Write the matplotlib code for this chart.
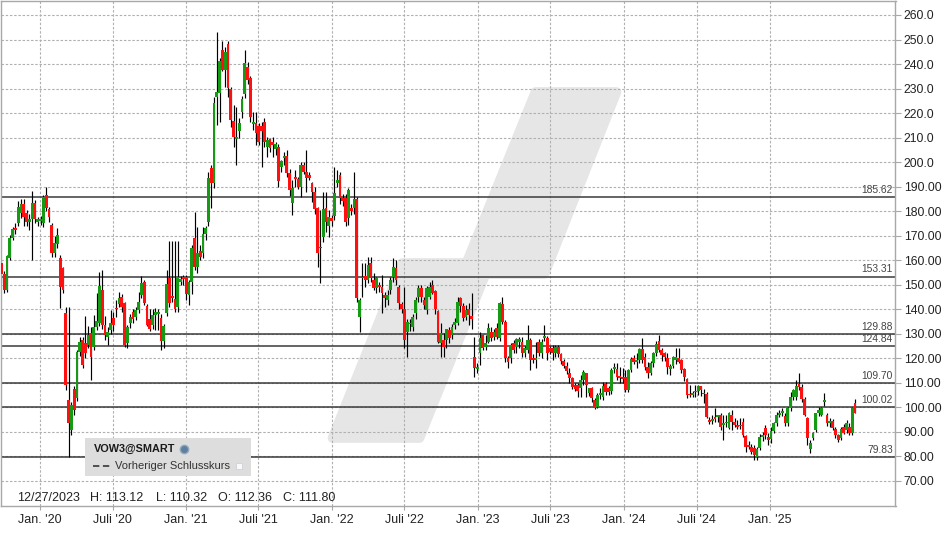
import matplotlib
matplotlib.use("Agg")
import matplotlib.pyplot as plt
import matplotlib.dates as mdates
from matplotlib.patches import Polygon, Rectangle
from matplotlib.transforms import blended_transform_factory
import pandas as pd
import numpy as np
from datetime import datetime

plt.rcParams['font.family'] = ['Liberation Sans', 'DejaVu Sans']

# ---------------- data (weekly candles) ----------------
start_date = "2019-09-27"
opens = [158.7,154.3,147.8,160.7,168.9,173.0,175.3,179.1,182.9,179.1,175.7,176.6,183.4,175.7,175.8,175.0,186.6,180.7,174.3,162.8,
         166.4,160.7,156.6,138.3,102.9,90.7,107.3,103.6,122.7,127.4,126.0,125.4,130.1,124.7,132.8,134.2,147.8,133.5,128.8,131.5,
         136.2,140.6,142.1,144.8,142.3,126.0,134.2,139.0,136.9,139.6,145.8,151.2,141.3,135.8,
         133.5,137.6,138.0,136.5,127.0,138.6,152.8,145.3,144.0,140.7,151.2,153.2,153.2,145.7,151.0,168.9,157.1,163.9,162.8,170.5,
         175.7,197.5,191.6,226.7,228.3,245.7,237.6,248.2,229.8,216.8,209.4,212.8,220.5,227.8,238.9,234.2,215.5,216.0,214.7,214.7,
         216.3,206.0,209.4,208.0,205.3,206.3,198.1,201.5,202.5,195.7,
         183.2,194.0,193.1,190.0,198.8,196.1,194.7,191.3,187.9,181.1,165.5,169.3,181.1,173.9,177.0,178.1,191.3,194.7,185.5,185.5,
         177.0,181.1,181.1,184.9,136.9,153.2,153.5,151.9,158.7,151.9,148.5,149.8,149.2,145.8,143.7,147.8,153.2,156.6,149.2,142.1,
         139.9,130.8,133.9,132.8,138.3,145.1,148.5,143.7,139.6,145.1,
         149.8,147.4,139.2,126.0,127.4,127.4,131.5,129.4,133.5,134.2,144.4,141.3,136.6,139.9,137.2,120.3,115.5,121.9,129.4,124.7,
         126.7,130.8,128.8,132.1,128.1,142.1,134.9,119.9,119.9,126.0,124.7,126.5,126.7,122.2,123.3,127.4,119.9,119.3,126.7,122.0,
         128.1,128.4,124.0,124.0,122.2,124.7,121.7,118.8,116.8,113.8,111.7,109.0,109.0,
         107.7,111.1,113.8,105.6,107.7,102.9,100.2,105.0,104.3,109.5,107.7,106.7,115.6,115.4,112.7,112.2,112.2,107.0,115.2,120.2,
         118.6,119.2,123.6,120.3,116.5,114.1,117.9,121.9,127.1,123.3,121.9,119.9,115.4,116.8,119.2,119.9,119.2,115.4,111.4,105.4,
         105.0,106.0,106.7,108.6,105.8,105.4,94.8,94.5,96.1,96.0,96.8,
         92.7,93.4,91.4,96.8,94.1,92.7,92.2,94.1,88.2,84.6,83.9,83.2,79.8,83.2,87.7,91.4,88.0,86.9,90.4,93.4,
         96.8,97.8,96.4,93.4,99.5,104.3,104.0,109.4,108.4,103.2,95.4,82.8,87.3,90.7,97.5,96.8,102.2,96.8,93.6,94.5,
         90.9,88.6,87.3,92.0,90.7,92.0,89.6,101.6]
highs = [159.4,155.5,162.1,170.2,173.6,175.0,184.2,185.0,185.0,180.5,179.0,188.0,184.5,177.5,178.0,186.6,190.0,181.5,175.0,170.0,
         173.0,162.0,157.0,141.0,141.0,102.0,108.5,123.5,128.5,128.5,137.0,133.0,132.8,137.6,146.4,155.0,156.0,137.0,132.8,139.6,
         139.0,143.7,147.1,146.0,143.0,133.5,138.0,140.0,141.0,147.0,153.7,152.0,142.0,140.0,
         140.0,140.3,140.0,138.0,134.0,156.0,167.9,167.9,167.9,167.9,153.5,154.0,154.0,152.0,166.0,179.7,173.6,166.0,173.6,174.0,
         196.1,199.0,226.7,253.2,242.3,249.5,247.1,249.5,230.8,223.3,222.6,218.0,227.0,245.7,241.0,235.0,220.5,220.5,216.0,216.5,
         218.0,210.4,210.0,210.4,208.0,207.5,201.0,204.0,205.0,197.0,
         192.7,196.8,194.0,200.2,200.2,204.9,196.0,192.0,190.0,181.8,180.5,187.9,187.9,180.5,178.5,198.1,196.8,196.1,187.0,187.0,
         189.3,183.0,196.1,185.9,144.4,158.7,158.7,161.4,161.4,154.6,153.0,151.0,153.9,147.0,147.8,153.0,160.7,160.0,150.0,143.0,
         149.2,136.0,136.0,138.0,145.0,150.0,150.0,145.0,149.5,151.0,
         152.0,148.0,139.6,134.2,130.1,131.8,132.8,134.0,136.2,145.0,145.0,142.5,141.7,142.4,146.4,128.8,117.9,130.8,129.4,129.4,
         134.2,132.8,132.0,134.2,143.0,145.1,135.5,121.0,126.0,127.4,128.4,128.5,128.8,125.0,133.5,128.1,121.8,126.7,128.0,128.0,
         133.5,129.0,125.0,125.2,125.5,125.5,122.0,119.5,118.5,115.8,112.5,110.0,110.0,
         113.1,115.2,114.1,108.0,108.4,103.6,105.6,107.7,110.4,110.4,108.5,115.8,117.9,117.9,116.5,115.8,115.2,115.5,120.6,121.3,
         122.0,124.0,128.1,121.9,118.5,119.0,122.6,127.0,129.4,124.0,122.5,122.0,117.5,121.0,124.0,124.0,119.5,116.0,112.0,109.0,
         106.5,109.0,109.0,108.6,107.5,106.0,96.1,96.8,99.5,97.0,97.5,
         96.8,96.8,98.0,98.8,95.5,94.7,95.4,95.4,88.6,86.0,85.0,84.5,83.9,89.0,90.0,92.7,89.5,92.0,94.0,98.2,
         98.8,99.5,97.5,100.0,106.3,107.3,111.0,113.8,109.5,104.0,96.0,86.5,90.0,97.5,100.2,100.2,105.6,97.5,95.5,95.0,
         92.0,89.0,92.0,93.0,94.8,93.5,100.2,103.2]
lows = [150.5,146.4,147.1,160.0,168.2,170.5,174.0,177.0,174.0,174.0,172.3,160.0,175.0,174.0,174.3,173.6,180.0,175.5,161.4,161.4,
        165.0,140.3,146.4,107.0,79.8,88.5,97.0,102.5,121.0,116.0,120.0,124.0,111.0,123.3,131.5,133.0,132.0,127.5,125.4,130.0,
        131.0,136.9,141.0,139.0,124.7,124.0,132.5,134.5,135.5,138.5,144.5,141.5,133.0,131.0,
        132.0,131.5,131.5,123.3,124.0,137.0,141.0,143.0,139.0,139.0,150.0,150.0,143.7,141.7,146.0,156.0,154.6,160.0,160.7,168.0,
        174.0,181.1,189.3,215.0,216.5,237.0,230.8,226.7,214.4,206.3,198.8,210.0,218.0,226.0,232.0,216.5,213.0,207.0,207.0,198.0,
        206.0,202.0,204.0,202.0,203.0,190.0,196.0,199.0,194.0,186.0,
        178.4,190.0,189.0,185.9,195.0,187.9,192.5,183.8,179.0,157.3,150.8,167.5,171.6,169.6,174.0,176.4,190.0,183.0,182.0,174.0,
        174.3,178.5,179.0,143.0,130.8,145.1,149.2,150.5,151.0,148.0,146.5,147.0,138.3,141.0,141.7,146.0,151.0,150.0,140.0,138.5,
        124.0,120.6,131.0,131.0,136.0,143.0,143.0,140.0,138.0,144.0,
        146.0,138.0,126.0,120.6,120.6,124.0,126.0,128.0,132.0,133.5,139.0,135.0,135.5,133.5,132.0,112.4,113.8,117.2,123.3,123.3,
        126.0,127.0,127.5,128.0,127.0,134.0,118.6,115.8,118.0,122.0,122.0,124.0,120.6,120.5,122.0,115.2,118.0,115.8,121.0,120.0,
        127.0,119.2,121.5,119.2,120.5,120.5,117.5,116.0,113.5,109.7,107.5,106.5,104.0,
        104.3,109.0,104.3,104.5,102.2,99.1,99.5,103.2,103.0,105.0,105.0,105.5,114.0,111.0,110.0,109.7,106.0,106.0,114.5,117.5,
        116.0,118.0,118.0,115.2,111.8,113.0,116.5,121.0,122.5,119.0,119.0,113.5,113.0,116.0,117.5,118.0,114.0,110.5,103.8,104.0,
        104.0,104.0,105.0,104.6,101.6,95.5,93.0,93.0,94.0,94.0,90.5,
        86.6,92.0,91.0,90.7,92.0,91.0,91.0,88.0,81.8,83.0,81.0,78.4,78.4,82.5,86.0,87.0,84.5,85.5,89.5,92.5,
        95.8,96.5,92.5,92.5,98.5,103.0,103.0,107.0,102.2,96.5,84.6,81.2,86.5,90.0,96.5,96.5,100.5,92.5,92.0,90.5,
        87.5,85.9,86.5,89.0,89.5,88.5,88.7,97.5]
closes = [154.3,147.8,161.7,168.9,172.6,172.3,181.8,182.9,177.7,175.7,176.8,183.4,176.6,176.6,176.6,185.6,181.1,177.4,162.8,166.8,
          170.2,149.2,147.8,109.0,93.4,100.9,98.8,122.7,126.7,117.2,121.9,129.4,120.6,132.8,135.1,149.4,133.5,129.5,130.8,134.5,
          133.5,140.0,144.4,141.0,125.4,132.8,136.9,135.8,139.6,143.0,150.5,142.4,133.5,131.8,
          137.6,139.0,138.7,127.0,133.1,150.1,142.4,144.6,139.9,153.2,152.2,152.2,146.1,151.2,164.8,157.1,162.8,161.4,170.5,173.0,
          193.4,191.3,224.0,228.4,241.2,237.6,245.0,230.1,217.2,210.4,210.1,215.8,225.7,240.3,233.5,218.5,216.5,211.7,208.3,212.8,
          208.3,209.0,205.9,206.8,207.4,192.4,200.4,202.3,195.4,188.6,
          189.3,193.1,190.0,198.8,196.1,193.4,193.4,187.9,180.7,162.8,164.8,180.7,175.7,177.7,176.1,187.5,192.7,185.2,184.3,175.7,
          188.6,180.2,184.9,144.4,143.7,152.6,151.9,158.0,152.6,148.5,152.6,148.9,146.4,144.4,145.8,151.9,157.1,151.9,142.4,139.9,
          127.4,134.6,134.5,136.9,143.7,148.5,145.1,141.7,148.5,148.9,
          146.5,139.9,126.7,130.1,124.7,131.8,128.1,132.8,134.9,143.0,141.3,136.2,139.6,137.6,135.8,115.8,116.5,128.1,124.0,126.0,
          132.1,128.1,130.8,128.8,142.6,134.9,119.9,118.6,125.4,123.3,127.7,127.9,122.0,124.0,127.4,119.3,119.3,119.7,122.0,126.7,
          129.0,122.2,122.7,122.2,124.7,121.7,118.8,116.8,114.8,111.7,108.4,107.3,106.5,
          111.1,114.5,109.0,107.7,103.6,99.5,105.0,105.6,108.6,106.3,106.3,115.2,115.9,112.4,111.8,111.8,107.0,115.2,119.5,118.6,
          119.2,123.6,119.2,116.5,114.1,117.9,122.2,125.8,123.3,121.3,120.6,116.5,116.8,120.6,120.3,118.6,115.2,112.4,104.9,105.0,
          105.6,106.8,108.6,107.0,105.4,96.1,94.1,95.2,95.0,96.7,92.0,
          93.4,94.1,97.7,94.1,92.7,92.0,92.6,88.6,83.9,83.9,81.8,80.5,82.9,87.7,88.6,88.6,86.6,90.4,93.4,96.8,
          97.8,98.3,93.4,99.5,104.3,106.9,108.6,108.4,103.2,96.8,87.3,85.5,89.6,97.5,98.8,99.5,102.8,93.4,94.5,91.4,
          88.6,86.6,90.9,89.6,93.7,89.6,99.5,97.8]

ref_levels = [185.62, 153.31, 129.88, 124.84, 109.70, 100.02, 79.83]
y_ticks = list(range(70, 261, 10))
x_tick_dates = ["2020-01-01", "2020-07-01", "2021-01-01", "2021-07-01", "2022-01-01", "2022-07-01",
                "2023-01-01", "2023-07-01", "2024-01-01", "2024-07-01", "2025-01-01"]
x_tick_labels = ["Jan. '20", "Juli '20", "Jan. '21", "Juli '21", "Jan. '22", "Juli '22",
                 "Jan. '23", "Juli '23", "Jan. '24", "Juli '24", "Jan. '25"]
info_items = ["12/27/2023", "H: 113.12", "L: 110.32", "O: 112.36", "C: 111.80"]
symbol = "VOW3@SMART"
legend_label = "Vorheriger Schlusskurs"

# ---------------- figure ----------------
W, H = 948, 534
fig = plt.figure(figsize=(W / 100, H / 100), dpi=100)
AX_W, AX_H = 895, 505
ax = fig.add_axes([0.5 / W, (H - 506) / H, AX_W / W, AX_H / H])

def px(x, y):
    """pixel position inside the axes box (top-left origin) -> axes fraction"""
    return x / AX_W, 1 - (y - 1) / AX_H

dates = mdates.date2num(pd.date_range(start_date, periods=len(opens), freq="7D").to_pydatetime())
o = np.array(opens); h = np.array(highs); l = np.array(lows); c = np.array(closes)
up = c >= o
body = c - o
body = np.where(np.abs(body) < 0.6, np.where(up, 0.6, -0.6), body)
colors = np.where(up, "#169a16", "#ff1010")

jan20 = mdates.date2num(datetime(2020, 1, 1))
ax.set_xlim(jan20 - 98.3, jan20 + 2140.5)
ax.set_ylim(59.68, 265.71)

# watermark
wm_px = [(535, 92), (616, 92), (544, 274), (485, 274), (419, 438), (332, 438), (402, 263), (466, 263)]
wm = Polygon([px(*p) for p in wm_px], closed=True, transform=ax.transAxes,
             facecolor="#e6e6e6", edgecolor="#e6e6e6", lw=7, joinstyle="round", zorder=0.1)
ax.add_patch(wm)

# grid
ax.set_axisbelow(True)
ax.grid(True, color="#b0b0b0", linestyle=(0, (2.2, 1.6)), lw=0.8)

# reference lines
bt = blended_transform_factory(ax.transAxes, ax.transData)
for lv in ref_levels:
    ax.axhline(lv, color="#3a3a3a", lw=1.1, zorder=1.5)
    ax.annotate(f"{lv:.2f}", xy=(1.0, lv), xycoords=bt, xytext=(-2, 1.5), textcoords="offset points",
                ha="right", va="bottom", fontsize=7.4, color="#444444", zorder=5)

# candles
ax.vlines(dates, l, h, colors="black", lw=0.85, zorder=2)
ax.bar(dates, body, bottom=o, width=7.0, color=colors, linewidth=0, zorder=3)

# axes styling
for s in ax.spines.values():
    s.set_color("#a8a8a8")
    s.set_linewidth(1)
ax.yaxis.tick_right()
ax.set_yticks(y_ticks)
ax.set_yticklabels([f"{v:.1f}" if v >= 200 else f"{v:.2f}" for v in y_ticks])
ax.tick_params(axis="y", length=4, color="#a8a8a8", pad=2, labelsize=8.8, labelcolor="#222222")
ax.set_xticks(mdates.date2num(pd.to_datetime(x_tick_dates).to_pydatetime()))
ax.set_xticklabels(x_tick_labels)
ax.tick_params(axis="x", length=3, color="#a8a8a8", pad=3, labelsize=9, labelcolor="#222222")

# legend box
lx0, ly0 = px(85, 476)
lx1, ly1 = px(251, 438)
ax.add_patch(Rectangle((lx0, ly0), lx1 - lx0, ly1 - ly0, transform=ax.transAxes,
                       facecolor="#dddddd", edgecolor="none", zorder=6))
ax.text(*px(93, 449), symbol, transform=ax.transAxes, fontsize=7.8, fontweight="bold",
        color="#1a1a1a", va="center", ha="left", zorder=7)
gx, gy = px(184, 449)
ax.plot([gx], [gy], marker="o", ms=6, color="#5f7fa0", mec="#8fa8c0", transform=ax.transAxes, zorder=7)
d0 = px(93, 466); d1 = px(110, 466)
ax.plot([d0[0], d1[0]], [d0[1], d1[1]], color="#444444", lw=1.3, linestyle=(0, (3.5, 2)),
        transform=ax.transAxes, zorder=7)
ax.text(*px(115, 466), legend_label, transform=ax.transAxes, fontsize=8, color="#333333",
        va="center", ha="left", zorder=7)
sq0 = px(236, 469); sq1 = px(242, 463)
ax.add_patch(Rectangle(sq0, sq1[0] - sq0[0], sq1[1] - sq0[1], transform=ax.transAxes,
                       facecolor="#f8f8ff", edgecolor="#cccccc", lw=0.5, zorder=7))

# info line
for xpx, txt in zip([16.5, 90, 155, 218, 283], info_items):
    ax.text(*px(xpx, 498), txt, transform=ax.transAxes, fontsize=9, color="#222222",
            va="center", ha="left", zorder=7)

fig.savefig("out.png", dpi=100, facecolor="white")
